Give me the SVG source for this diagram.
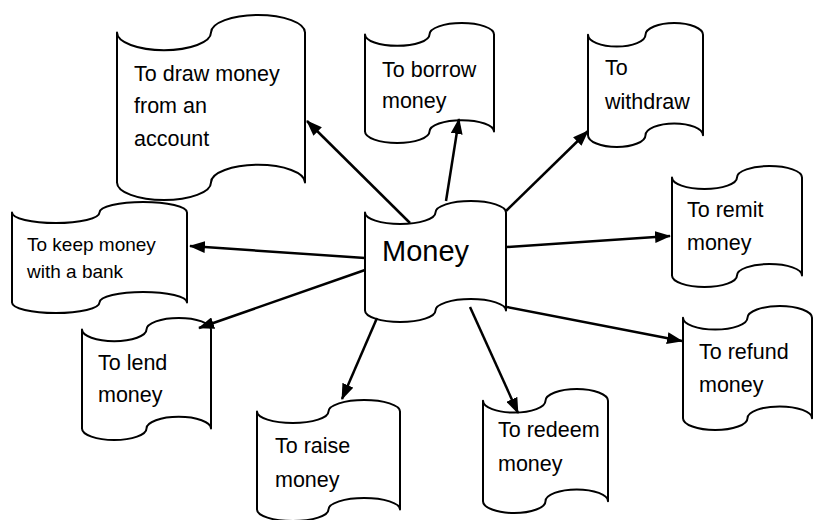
<svg xmlns="http://www.w3.org/2000/svg" width="816" height="520" viewBox="0 0 816 520">
  <defs>
    <style>
      .tape { fill: #ffffff; stroke: #000000; stroke-width: 2; stroke-linejoin: round; }
      .lbl { font-family: "Liberation Sans", Arial, sans-serif; font-size: 21.5px; fill: #000000; }
      .sm { font-size: 19px; }
      .big { font-size: 29px; }
      .link { stroke: #000000; stroke-width: 2.5; fill: none; marker-end: url(#head); }
    </style>
    <marker id="head" viewBox="0 0 16 12" refX="15" refY="6" markerWidth="16" markerHeight="12" markerUnits="userSpaceOnUse" orient="auto">
      <path d="M0,0 L16,6 L0,12 Z" fill="#000000"/>
    </marker>
  </defs>

  <rect width="816" height="520" fill="#ffffff"/>

  <!-- punched-tape nodes -->
  <g id="node-draw">
    <path class="tape" d="M117,32.6 A47,17.6 0 0 0 211,32.6 A47,17.6 0 0 1 305,32.6 L305,182.4 A47,17.6 0 0 0 211,182.4 A47,17.6 0 0 1 117,182.4 Z"/>
    <text class="lbl" x="134" y="81">To draw money</text>
    <text class="lbl" x="134" y="113">from an</text>
    <text class="lbl" x="134" y="146">account</text>
  </g>

  <g id="node-borrow">
    <path class="tape" d="M365,34.4 A32.25,11.4 0 0 0 429.5,34.4 A32.25,11.4 0 0 1 494,34.4 L494,131.6 A32.25,11.4 0 0 0 429.5,131.6 A32.25,11.4 0 0 1 365,131.6 Z"/>
    <text class="lbl" x="382" y="77">To borrow</text>
    <text class="lbl" x="382" y="108">money</text>
  </g>

  <g id="node-withdraw">
    <path class="tape" d="M588,34.8 A28.75,11.8 0 0 0 645.5,34.8 A28.75,11.8 0 0 1 703,34.8 L703,135.2 A28.75,11.8 0 0 0 645.5,135.2 A28.75,11.8 0 0 1 588,135.2 Z"/>
    <text class="lbl" x="605" y="75">To</text>
    <text class="lbl" x="605" y="109">withdraw</text>
  </g>

  <g id="node-keep">
    <path class="tape" d="M12,212.5 A43.75,10.5 0 0 0 99.5,212.5 A43.75,10.5 0 0 1 187,212.5 L187,302.5 A43.75,10.5 0 0 0 99.5,302.5 A43.75,10.5 0 0 1 12,302.5 Z"/>
    <text class="lbl sm" x="27" y="251">To keep money</text>
    <text class="lbl sm" x="27" y="278">with a bank</text>
  </g>

  <g id="node-money">
    <path class="tape" d="M365,212.5 A35.25,11.5 0 0 0 435.5,212.5 A35.25,11.5 0 0 1 506,212.5 L506,310.5 A35.25,11.5 0 0 0 435.5,310.5 A35.25,11.5 0 0 1 365,310.5 Z"/>
    <text class="lbl big" x="382" y="261">Money</text>
  </g>

  <g id="node-remit">
    <path class="tape" d="M672,177.5 A32.5,11.5 0 0 0 737,177.5 A32.5,11.5 0 0 1 802,177.5 L802,275.5 A32.5,11.5 0 0 0 737,275.5 A32.5,11.5 0 0 1 672,275.5 Z"/>
    <text class="lbl" x="687" y="217">To remit</text>
    <text class="lbl" x="687" y="250">money</text>
  </g>

  <g id="node-lend">
    <path class="tape" d="M82,329.6 A32.25,11.6 0 0 0 146.5,329.6 A32.25,11.6 0 0 1 211,329.6 L211,428.4 A32.25,11.6 0 0 0 146.5,428.4 A32.25,11.6 0 0 1 82,428.4 Z"/>
    <text class="lbl" x="98" y="370">To lend</text>
    <text class="lbl" x="98" y="402">money</text>
  </g>

  <g id="node-raise">
    <path class="tape" d="M257,411.5 A35.75,11.5 0 0 0 328.5,411.5 A35.75,11.5 0 0 1 400,411.5 L400,509.5 A35.75,11.5 0 0 0 328.5,509.5 A35.75,11.5 0 0 1 257,509.5 Z"/>
    <text class="lbl" x="275" y="453">To raise</text>
    <text class="lbl" x="275" y="487">money</text>
  </g>

  <g id="node-redeem">
    <path class="tape" d="M483,400.8 A31.25,11.8 0 0 0 545.5,400.8 A31.25,11.8 0 0 1 608,400.8 L608,501.2 A31.25,11.8 0 0 0 545.5,501.2 A31.25,11.8 0 0 1 483,501.2 Z"/>
    <text class="lbl" x="498" y="437">To redeem</text>
    <text class="lbl" x="498" y="471">money</text>
  </g>

  <g id="node-refund">
    <path class="tape" d="M683,317.8 A32.25,11.8 0 0 0 747.5,317.8 A32.25,11.8 0 0 1 812,317.8 L812,418.2 A32.25,11.8 0 0 0 747.5,418.2 A32.25,11.8 0 0 1 683,418.2 Z"/>
    <text class="lbl" x="699" y="359">To refund</text>
    <text class="lbl" x="699" y="392">money</text>
  </g>

  <!-- arrows from the central node -->
  <g id="connectors">
    <line class="link" x1="410" y1="223" x2="307" y2="121"/>
    <line class="link" x1="446" y1="201" x2="459" y2="119"/>
    <line class="link" x1="506" y1="211" x2="588" y2="131"/>
    <line class="link" x1="507" y1="247" x2="670" y2="236"/>
    <line class="link" x1="507" y1="307" x2="682" y2="341"/>
    <line class="link" x1="470" y1="307" x2="518" y2="413"/>
    <line class="link" x1="377" y1="318" x2="342" y2="399"/>
    <line class="link" x1="365" y1="270" x2="199" y2="328"/>
    <line class="link" x1="365" y1="258" x2="190" y2="246"/>
  </g>
</svg>
